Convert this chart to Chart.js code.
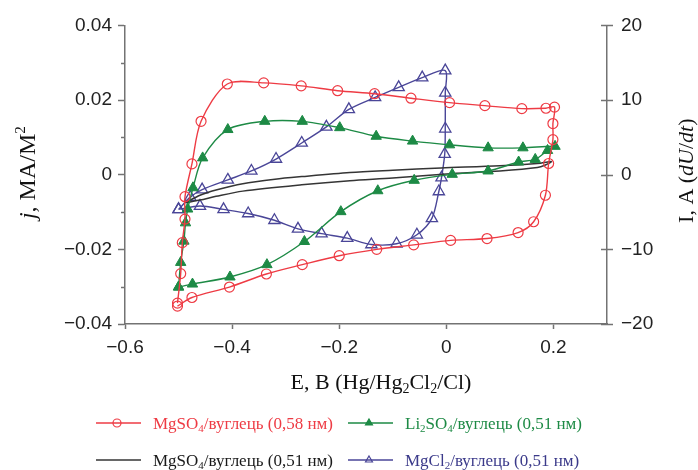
<!DOCTYPE html>
<html>
<head>
<meta charset="utf-8">
<script src="https://cdn.jsdelivr.net/npm/chart.js@4.4.1/dist/chart.umd.min.js"></script>
<style>
  html, body { margin: 0; padding: 0; background: #fff; }
  canvas { display: block; }
</style>
</head>
<body>
<canvas id="cv" width="698" height="470"></canvas>
<script>
// Cyclic voltammograms: potential E (V vs Hg/Hg2Cl2/Cl) against current density j

// MgSO4 / carbon, 0.58 nm pores (circles)
const mgso4Wide_E = [-0.502, -0.496, -0.493, -0.488, -0.488, -0.475, -0.458, -0.409, -0.341, -0.271,
  -0.203, -0.134, -0.066, 0.006, 0.072, 0.141, 0.186, 0.202, 0.199, 0.199, 0.191, 0.185,
  0.163, 0.134, 0.076, 0.008, -0.061, -0.130, -0.200, -0.269, -0.336, -0.405, -0.475, -0.502];
const mgso4Wide_j = [-0.0344, -0.0265, -0.0182, -0.0119, -0.0059, 0.0029, 0.0143, 0.0243, 0.0246, 0.0238,
  0.0225, 0.0217, 0.0205, 0.0193, 0.0185, 0.0177, 0.0178, 0.0181, 0.0137, 0.0094, 0.0030, -0.0055,
  -0.0126, -0.0155, -0.0171, -0.0176, -0.0188, -0.0200, -0.0217, -0.0241, -0.0266, -0.0301, -0.0329, -0.0352];

// Li2SO4 / carbon, 0.51 nm (filled triangles)
const li2so4_E = [-0.500, -0.496, -0.490, -0.487, -0.483, -0.473, -0.455, -0.408, -0.339, -0.269,
  -0.199, -0.131, -0.063, 0.006, 0.078, 0.143, 0.203, 0.189, 0.166, 0.135, 0.078, 0.011,
  -0.060, -0.128, -0.197, -0.265, -0.335, -0.404, -0.474, -0.500];
const li2so4_j = [-0.0301, -0.0235, -0.0178, -0.0129, -0.0092, -0.0035, 0.0045, 0.0121, 0.0143, 0.0143,
  0.0126, 0.0103, 0.0090, 0.0080, 0.0072, 0.0072, 0.0076, 0.0065, 0.0041, 0.0034, 0.0010, 0.0001,
  -0.0015, -0.0043, -0.0099, -0.0179, -0.0241, -0.0274, -0.0293, -0.0301];

// MgSO4 / carbon, 0.51 nm (plain line)
const mgso4Narrow_E = [-0.487, -0.460, -0.430, -0.380, -0.320, -0.270, -0.180, -0.100, -0.010, 0.100, 0.176, 0.196,
  0.185, 0.170, 0.100, 0.000, -0.100, -0.180, -0.270, -0.380, -0.430, -0.460, -0.487];
const mgso4Narrow_j = [-0.0075, -0.0055, -0.0041, -0.0024, -0.0012, -0.0005, 0.0006, 0.0012, 0.0018, 0.0024, 0.0031, 0.0035,
  0.0026, 0.0019, 0.0010, 0.0002, -0.0009, -0.0016, -0.0027, -0.0044, -0.0058, -0.0068, -0.0075];

// MgCl2 / carbon, 0.51 nm (open triangles)
const mgcl2_E = [-0.500, -0.478, -0.456, -0.408, -0.364, -0.318, -0.270, -0.224, -0.182, -0.133, -0.089, -0.045, -0.002,
  -0.002, -0.002, -0.003, -0.009, -0.014, -0.027, -0.055, -0.093, -0.140, -0.185, -0.233, -0.277, -0.321, -0.370, -0.416, -0.460, -0.500];
const mgcl2_j = [-0.0093, -0.0060, -0.0040, -0.0014, 0.0010, 0.0042, 0.0085, 0.0128, 0.0175, 0.0207, 0.0234, 0.0260, 0.0279,
  0.0219, 0.0123, 0.0055, -0.0008, -0.0045, -0.0117, -0.0161, -0.0185, -0.0187, -0.0170, -0.0158, -0.0145, -0.0122, -0.0104, -0.0093, -0.0084, -0.0093];

// Axis ticks
const eTicks = [-0.6, -0.4, -0.2, 0, 0.2];
const jTicks = [-0.04, -0.02, 0, 0.02, 0.04];
const jMinorTicks = [-0.03, -0.01, 0.01, 0.03];
const iTicks = [-20, -10, 0, 10, 20];

const seriesLabels = [
  'MgSO4/вуглець (0,58 нм)',
  'Li2SO4/вуглець (0,51 нм)',
  'MgSO4/вуглець (0,51 нм)',
  'MgCl2/вуглець (0,51 нм)'
];

const RED = '#ee3b44', GREEN = '#1d8a45', BLACK = '#353535', BLUE = '#4a4698';
const AXIS = '#737373';
const SERIF = '"Liberation Serif", "Times New Roman", serif';
const SANS = '"Liberation Sans", Arial, sans-serif';

const pairs = (xs, ys) => xs.map((x, i) => ({ x, y: ys[i] }));
const fmt = v => {
  const n = +(+v).toFixed(3);
  return n === 0 ? '0' : String(n).replace('-', '\u2212');
};

// Rich text: parts are [text, style] with style '', 'i', 'sub' or 'sup'
function partFont(style, size) {
  const s = (style === 'sub' || style === 'sup') ? Math.round(size * 0.62) : size;
  return (style === 'i' ? 'italic ' : '') + s + 'px ' + SERIF;
}
function richWidth(ctx, parts, size) {
  let w = 0;
  parts.forEach(([t, st]) => { ctx.font = partFont(st, size); w += ctx.measureText(t).width; });
  return w;
}
function drawRich(ctx, parts, x, y, size, color, align) {
  const w = richWidth(ctx, parts, size);
  let cx = align === 'center' ? x - w / 2 : x;
  ctx.fillStyle = color;
  ctx.textBaseline = 'alphabetic';
  ctx.textAlign = 'left';
  parts.forEach(([t, st]) => {
    ctx.font = partFont(st, size);
    let dy = 0;
    if (st === 'sub') dy = size * 0.18;
    if (st === 'sup') dy = -size * 0.4;
    ctx.fillText(t, cx, y + dy);
    cx += ctx.measureText(t).width;
  });
}
function splitFormula(label) {
  // digits right after an element symbol become subscripts
  const out = [];
  const m = label.match(/^([A-Za-z0-9]+)(\/.*)$/);
  const head = m ? m[1] : label, tail = m ? m[2] : '';
  head.split(/(\d+)/).forEach((seg, i) => { if (seg) out.push([seg, i % 2 ? 'sub' : '']); });
  if (tail) out.push([tail, '']);
  return out;
}

const legendItems = [
  { ds: 0, color: RED, col: 0, row: 0 },
  { ds: 1, color: GREEN, col: 1, row: 0 },
  { ds: 2, color: '#1a1a1a', col: 0, row: 1 },
  { ds: 3, color: '#3b3a8a', col: 1, row: 1 }
];

const decor = {
  id: 'decor',
  afterDraw(chart) {
    const ctx = chart.ctx, a = chart.chartArea;
    const ys = chart.scales.y, y2 = chart.scales.y2;
    ctx.save();
    ctx.strokeStyle = AXIS;
    ctx.lineWidth = 1.5;
    const seg = (x1, y1, x2, y2_) => { ctx.beginPath(); ctx.moveTo(x1, y1); ctx.lineTo(x2, y2_); ctx.stroke(); };
    jMinorTicks.forEach(v => { const p = Math.round(ys.getPixelForValue(v)) + 0.5; seg(a.left - 4, p, a.left, p); });
    iTicks.forEach(v => { const p = Math.round(y2.getPixelForValue(v)) + 0.5; seg(a.right - 6, p, a.right + 6, p); });

    // axis titles
    const cxPlot = (a.left + a.right) / 2;
    drawRich(ctx, [['E, B (Hg/Hg', ''], ['2', 'sub'], ['Cl', ''], ['2', 'sub'], ['/Cl)', '']],
      cxPlot + 15, a.bottom + 65, 22, '#111', 'center');

    ctx.save();
    ctx.translate(35, (a.top + a.bottom) / 2 - 2);
    ctx.rotate(-Math.PI / 2);
    drawRich(ctx, [['j', 'i'], [', МА/М', ''], ['2', 'sup']], 0, 0, 24, '#111', 'center');
    ctx.restore();

    ctx.save();
    ctx.translate(693, (a.top + a.bottom) / 2 - 4);
    ctx.rotate(-Math.PI / 2);
    drawRich(ctx, [['I, A (', ''], ['dU', 'i'], ['/', ''], ['dt', 'i'], [')', '']], 0, 0, 22, '#111', 'center');
    ctx.restore();

    // legend
    const colX = [96, 348], rowY = [423, 460];
    legendItems.forEach(it => {
      const ds = chart.data.datasets[it.ds];
      const x0 = colX[it.col], y0 = rowY[it.row];
      ctx.strokeStyle = ds.borderColor;
      ctx.lineWidth = 1.5;
      seg(x0, y0, x0 + 45, y0);
      if (ds.pointRadius > 0) {
        ctx.fillStyle = ds.pointBackgroundColor;
        ctx.strokeStyle = ds.borderColor;
        ctx.lineWidth = 1.2;
        Chart.helpers.drawPoint(ctx, { pointStyle: ds.pointStyle, radius: 4, borderWidth: 1.2, rotation: 0 },
          x0 + 21, y0);
      }
      drawRich(ctx, splitFormula(seriesLabels[it.ds]), x0 + 57, y0 + 6, 17, it.color, 'left');
    });
    ctx.restore();
  }
};

new Chart(document.getElementById('cv'), {
  type: 'scatter',
  data: {
    datasets: [
      { label: seriesLabels[0], data: pairs(mgso4Wide_E, mgso4Wide_j), showLine: true, tension: 0.3,
        borderColor: RED, borderWidth: 1.4, pointStyle: 'circle', pointRadius: 5,
        pointBackgroundColor: 'rgba(0,0,0,0)', pointBorderColor: RED, pointBorderWidth: 1.2 },
      { label: seriesLabels[1], data: pairs(li2so4_E, li2so4_j), showLine: true, tension: 0.3,
        borderColor: GREEN, borderWidth: 1.4, pointStyle: 'triangle', pointRadius: 6,
        pointBackgroundColor: GREEN, pointBorderColor: GREEN, pointBorderWidth: 1 },
      { label: seriesLabels[2], data: pairs(mgso4Narrow_E, mgso4Narrow_j), showLine: true, tension: 0.3,
        borderColor: BLACK, borderWidth: 1.5, pointRadius: 0, pointStyle: 'circle',
        pointBackgroundColor: BLACK },
      { label: seriesLabels[3], data: pairs(mgcl2_E, mgcl2_j), showLine: true, tension: 0.3,
        borderColor: BLUE, borderWidth: 1.4, pointStyle: 'triangle', pointRadius: 6.5,
        pointBackgroundColor: 'rgba(0,0,0,0)', pointBorderColor: BLUE, pointBorderWidth: 1.3 }
    ]
  },
  options: {
    responsive: false,
    animation: false,
    events: [],
    layout: { padding: { top: 25, left: 0, right: 0, bottom: 0 } },
    plugins: { legend: { display: false }, tooltip: { enabled: false }, title: { display: false } },
    scales: {
      x: {
        type: 'linear', position: 'bottom', min: -0.6, max: 0.3,
        afterBuildTicks: s => { s.ticks = eTicks.map(v => ({ value: v })); },
        afterFit: s => { s.height = 146; },
        grid: { drawOnChartArea: false, tickLength: 5, tickColor: AXIS, tickWidth: 1.5 },
        border: { color: AXIS, width: 1.5 },
        ticks: { font: { family: SANS, size: 19 }, color: '#222', padding: 7, maxRotation: 0, autoSkip: false,
          callback: v => fmt(v) }
      },
      y: {
        type: 'linear', position: 'left', min: -0.04, max: 0.04,
        afterBuildTicks: s => { s.ticks = jTicks.map(v => ({ value: v })); },
        afterFit: s => { s.width = 125; },
        grid: { drawOnChartArea: false, tickLength: 7, tickColor: AXIS, tickWidth: 1.5 },
        border: { color: AXIS, width: 1.5 },
        ticks: { font: { family: SANS, size: 19 }, color: '#222', padding: 6, callback: v => fmt(v) }
      },
      y2: {
        type: 'linear', position: 'right', min: -20, max: 20,
        afterBuildTicks: s => { s.ticks = iTicks.map(v => ({ value: v })); },
        afterFit: s => { s.width = 91; },
        grid: { drawOnChartArea: false, drawTicks: false },
        border: { color: AXIS, width: 1.5 },
        ticks: { font: { family: SANS, size: 19 }, color: '#222', padding: 14, callback: v => fmt(v) }
      }
    }
  },
  plugins: [decor]
});
</script>
</body>
</html>
